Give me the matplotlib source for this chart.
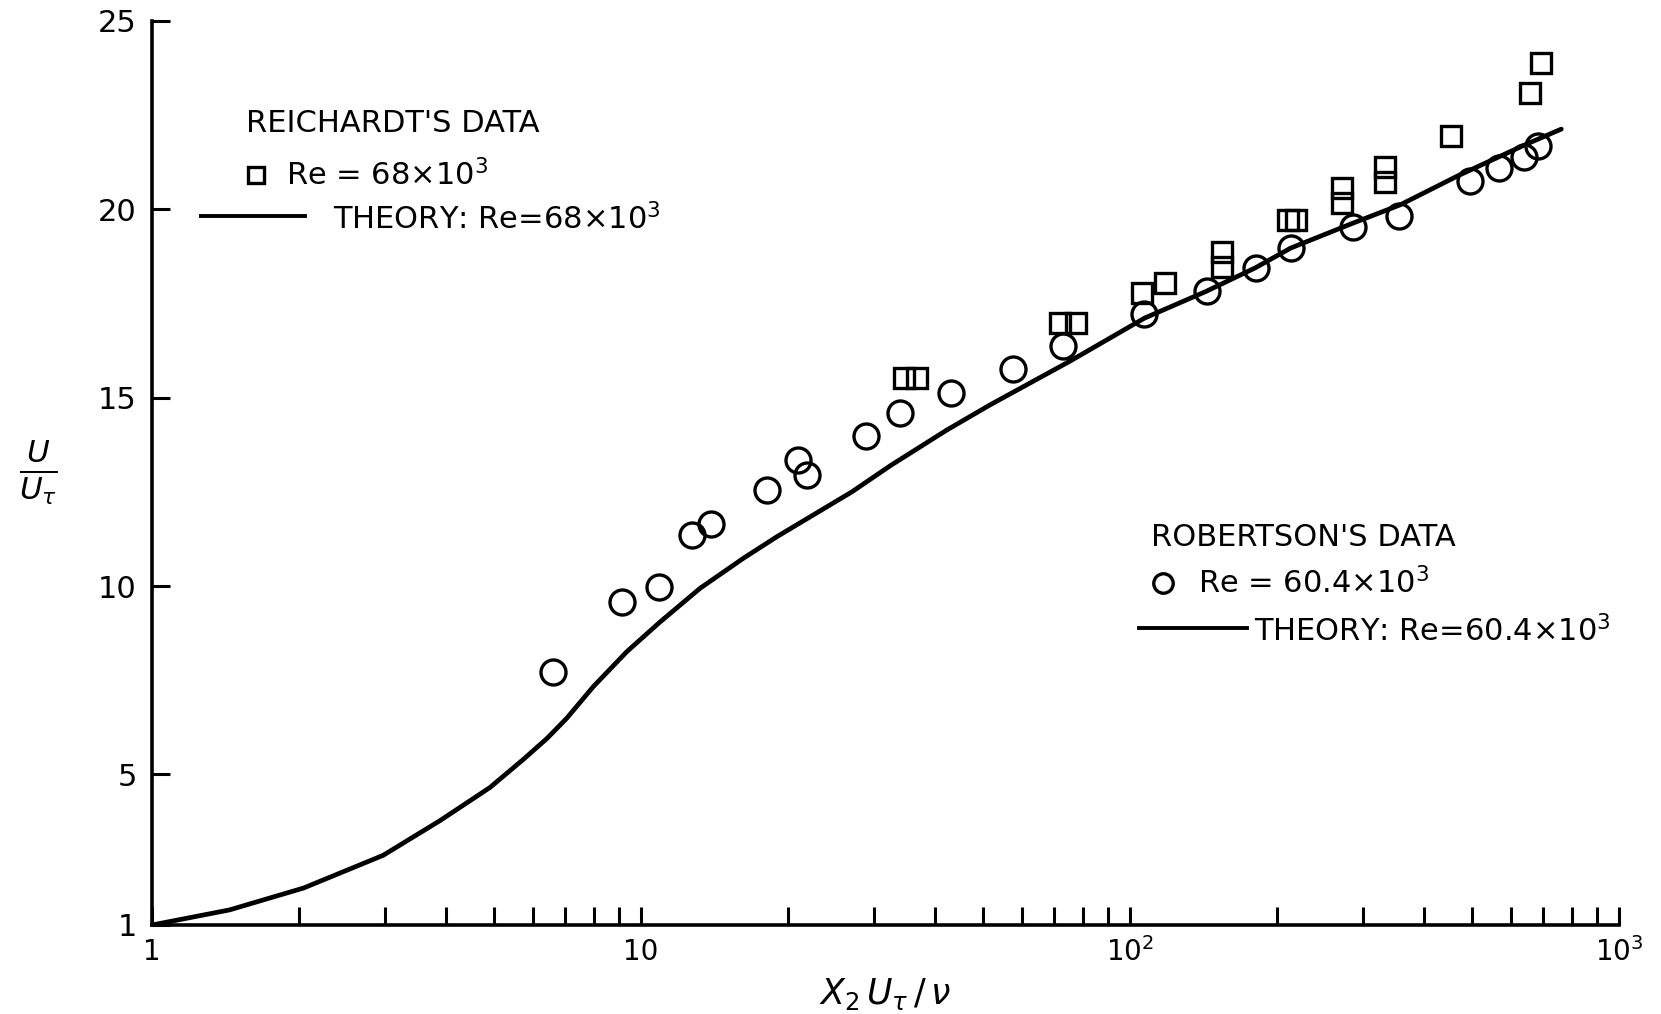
import numpy as np
import matplotlib
matplotlib.use("Agg")
import matplotlib.pyplot as plt
from matplotlib.lines import Line2D
from matplotlib.ticker import FixedLocator, NullFormatter

# Robertson's measurements, Re = 60.4e3 (circles)
robertson_x = [6.61, 9.15, 10.9, 12.7, 13.9, 18.1, 20.9, 21.8, 28.8, 33.9, 43.0, 57.7,
               72.9, 107, 144, 181, 213, 286, 355, 496, 567, 639, 682]
robertson_y = [7.72, 9.58, 9.97, 11.35, 11.65, 12.54, 13.35, 12.96, 13.98, 14.60, 15.12, 15.77,
               16.36, 17.21, 17.83, 18.45, 18.98, 19.54, 19.82, 20.74, 21.09, 21.40, 21.68]

# Reichardt's measurements, Re = 68e3 (squares)
reichardt_x = [34.5, 36.7, 72.0, 77.5, 106, 118, 154.5, 154.5, 210.6, 219, 271.5, 271.5,
               333, 333, 453, 658, 692]
reichardt_y = [15.52, 15.52, 16.98, 16.98, 17.77, 18.05, 18.87, 18.48, 19.72, 19.72, 20.57, 20.17,
               21.13, 20.73, 21.95, 23.10, 23.88]

# theoretical velocity profile
theory_x = [1, 1.44, 2.04, 2.97, 3.88, 4.91, 5.75, 6.42, 7.05, 7.99, 9.36, 10.95, 13.21,
            16.21, 18.97, 22.2, 27.0, 32.4, 42.2, 51.6, 75.4, 107, 143, 180, 213, 284, 357,
            470, 644, 762]
theory_y = [1.0, 1.40, 1.98, 2.85, 3.77, 4.65, 5.40, 5.95, 6.49, 7.33, 8.26, 9.05, 9.94,
            10.74, 11.31, 11.84, 12.50, 13.20, 14.14, 14.80, 15.97, 17.11, 17.82, 18.44,
            18.97, 19.62, 20.12, 20.90, 21.72, 22.13]

x_major = [1, 10, 100, 1000]
x_major_labels = ["1", "10", r"$10^2$", r"$10^3$"]
y_ticks = [1, 5, 10, 15, 20, 25]
y_tick_labels = ["1", "5", "10", "15", "20", "25"]

W, H = 1661, 1014
plt.rcParams["font.family"] = ["DejaVu Sans"]


def px(x, y):
    # pixel position (from top-left) -> figure fraction
    return x / W, 1 - y / H


fig = plt.figure(figsize=(W / 100, H / 100), dpi=100)
ax = fig.add_axes([152 / W, (H - 925) / H, (1619 - 152) / W, (925 - 21) / H])

ax.plot(theory_x, theory_y, color="black", lw=3.4, solid_joinstyle="round",
        solid_capstyle="round")
ax.plot(robertson_x, robertson_y, ls="none", marker="o", ms=18, mfc="none",
        mec="black", mew=2.4)
ax.plot(reichardt_x, reichardt_y, ls="none", marker="s", ms=14, mfc="none",
        mec="black", mew=2.4)

ax.set_xscale("log")
ax.set_xlim(1, 1000)
ax.set_ylim(1, 25)

for side in ("top", "right"):
    ax.spines[side].set_visible(False)
for side in ("left", "bottom"):
    ax.spines[side].set_linewidth(2.6)

ax.xaxis.set_major_locator(FixedLocator(x_major))
minors = [m * d for d in (1, 10, 100) for m in range(2, 10)]
ax.xaxis.set_minor_locator(FixedLocator(minors))
ax.xaxis.set_minor_formatter(NullFormatter())
ax.tick_params(axis="x", which="both", direction="in", length=13, width=2.2, pad=9)
ax.set_xticklabels(x_major_labels, fontsize=20)
ax.set_yticks(y_ticks)
ax.tick_params(axis="y", direction="in", length=13, width=2.2, pad=11)
ax.set_yticklabels(y_tick_labels, fontsize=22)

ax.set_xlabel(r"$X_2\,U_\tau\,/\,\nu$", fontsize=25, labelpad=6)
fig.text(*px(38, 472), r"$\frac{U}{U_\tau}$", fontsize=32, ha="center", va="center")

# legend block for Reichardt's data
fs = 22
fig.text(*px(246, 123), "REICHARDT'S DATA", fontsize=fs, ha="left", va="center")
fig.add_artist(Line2D([px(256, 175)[0]], [px(256, 175)[1]], marker="s", ms=12,
                      mfc="none", mec="black", mew=2.4, transform=fig.transFigure))
fig.text(*px(286, 175), r"Re = 68×10$^3$", fontsize=fs, ha="left", va="center")
fig.add_artist(Line2D([px(201, 216)[0], px(305, 216)[0]], [px(201, 216)[1]] * 2,
                      color="black", lw=2.8, transform=fig.transFigure))
fig.text(*px(333, 219), r"THEORY: Re=68×10$^3$", fontsize=fs, ha="left", va="center")

# legend block for Robertson's data
fig.text(*px(1151, 537), "ROBERTSON'S DATA", fontsize=fs, ha="left", va="center")
fig.add_artist(Line2D([px(1163, 583)[0]], [px(1163, 583)[1]], marker="o", ms=14,
                      mfc="none", mec="black", mew=2.4, transform=fig.transFigure))
fig.text(*px(1198, 583), r"Re = 60.4×10$^3$", fontsize=fs, ha="left", va="center")
fig.add_artist(Line2D([px(1139, 628)[0], px(1247, 628)[0]], [px(1139, 628)[1]] * 2,
                      color="black", lw=2.8, transform=fig.transFigure))
fig.text(*px(1254, 631), r"THEORY: Re=60.4×10$^3$", fontsize=fs, ha="left", va="center")

fig.savefig("out.png", dpi=100, facecolor="white")
